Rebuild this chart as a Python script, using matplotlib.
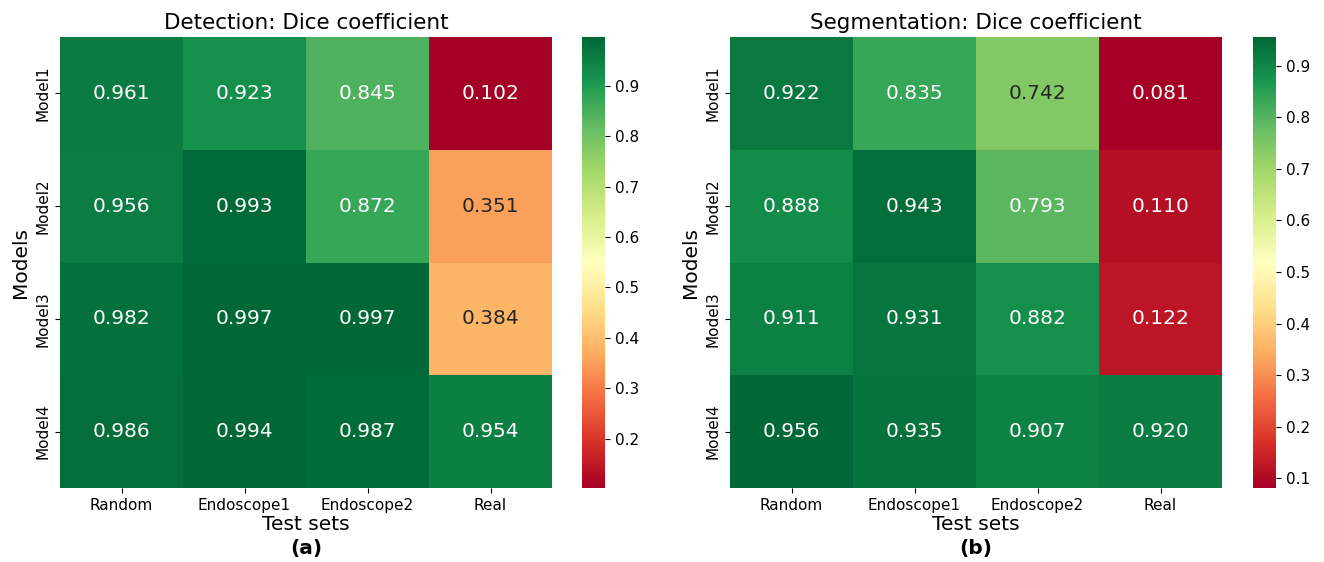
import numpy as np
import matplotlib
matplotlib.use("Agg")
import matplotlib.pyplot as plt
import seaborn as sns

plt.rcParams["font.family"] = "DejaVu Sans"

test_sets = ["Random", "Endoscope1", "Endoscope2", "Real"]
models = ["Model1", "Model2", "Model3", "Model4"]

# detection dice per model (rows) x test set (cols)
det_model1 = [0.961, 0.923, 0.845, 0.102]
det_model2 = [0.956, 0.993, 0.872, 0.351]
det_model3 = [0.982, 0.997, 0.997, 0.384]
det_model4 = [0.986, 0.994, 0.987, 0.954]

# segmentation dice
seg_model1 = [0.922, 0.835, 0.742, 0.081]
seg_model2 = [0.888, 0.943, 0.793, 0.110]
seg_model3 = [0.911, 0.931, 0.882, 0.122]
seg_model4 = [0.956, 0.935, 0.907, 0.920]

det = np.array([det_model1, det_model2, det_model3, det_model4])
seg = np.array([seg_model1, seg_model2, seg_model3, seg_model4])

W, H = 1324, 562
fig = plt.figure(figsize=(W / 100, H / 100), dpi=100)

def box(x0, y0, x1, y1):
    # pixel box -> figure fraction
    return [x0 / W, 1 - y1 / H, (x1 - x0) / W, (y1 - y0) / H]

panels = [
    (det, "Detection: Dice coefficient", "(a)", box(60, 37, 552, 488), box(582, 37, 605, 488)),
    (seg, "Segmentation: Dice coefficient", "(b)", box(730, 37, 1222, 488), box(1253, 37, 1276, 488)),
]

for data, title, tag, pos, cpos in panels:
    ax = fig.add_axes(pos)
    cax = fig.add_axes(cpos)
    sns.heatmap(data, ax=ax, cbar_ax=cax, cmap="RdYlGn", annot=True, fmt=".3f",
                annot_kws={"fontsize": 14.5},
                xticklabels=test_sets, yticklabels=models)
    ax.set_title(title, fontsize=15.5)
    ax.set_xlabel("Test sets", fontsize=14.5, labelpad=2)
    ax.set_ylabel("Models", fontsize=14.5)
    ax.tick_params(axis="both", labelsize=11)
    cax.tick_params(labelsize=11)
    ax.text(0.5, -0.134, tag, transform=ax.transAxes, ha="center", va="center",
            fontsize=14.5, fontweight="bold")

fig.savefig("out.png", dpi=100)
